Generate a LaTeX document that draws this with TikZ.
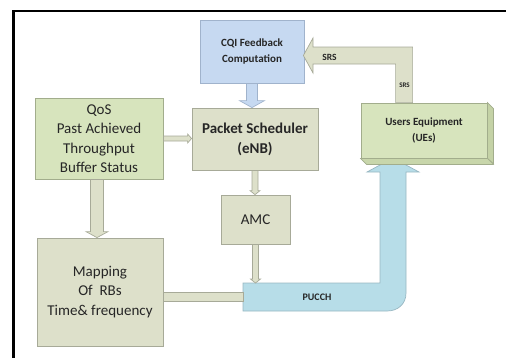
\documentclass[tikz,border=0pt]{standalone}
\usepackage{fontspec}
\setmainfont{Carlito}
\usetikzlibrary{calc}

\definecolor{txtgray}{HTML}{262626}
\definecolor{leafgreen}{HTML}{D7E4BD}
\definecolor{leafedge}{HTML}{A2AD8C}
\definecolor{leafside}{HTML}{C4D2A6}
\definecolor{khakifill}{HTML}{DDE0CA}
\definecolor{khakiedge}{HTML}{A7AA98}
\definecolor{skyfill}{HTML}{C6D9F1}
\definecolor{skyedge}{HTML}{A0B3CC}
\definecolor{chanfill}{HTML}{B7DDE8}
\definecolor{chanedge}{HTML}{98B7C2}

\begin{document}
\begin{tikzpicture}[x=1pt,y=-1pt,
  boxbase/.style={draw, line width=0.8pt, inner sep=0pt, align=center, text=txtgray},
  greenbox/.style={boxbase, fill=leafgreen, draw=leafedge},
  khakibox/.style={boxbase, fill=khakifill, draw=khakiedge},
  bluebox/.style={boxbase, fill=skyfill, draw=skyedge},
  khakiarrow/.style={fill=khakifill, draw=khakiedge, line width=0.7pt, line join=miter},
  bluearrow/.style={fill=skyfill, draw=skyedge, line width=0.7pt},
  chanarrow/.style={fill=chanfill, draw=chanedge, line width=0.7pt},
  bigtext/.style={font=\fontsize{15}{19.5}\selectfont},
  bigbold/.style={font=\fontsize{15}{20}\selectfont\bfseries},
  smallbold/.style={font=\fontsize{11}{15.5}\selectfont\bfseries},
  tag/.style={inner sep=0pt, text=txtgray, font=\fontsize{9.5}{11}\selectfont\bfseries}
]
\useasboundingbox (0,0) rectangle (506,357);

% page frame
\draw[line width=2.2pt] (13.5,360) -- (13.5,11) -- (510,11);

% blocks (placed first so the block arrows can refer to them)
\path
  node[bluebox, smallbold, minimum width=104, minimum height=63] (cqi) at (252,51.5) {CQI Feedback\\Computation}
  node[khakibox, bigbold, minimum width=126, minimum height=62] (ps) at (255,139) {Packet Scheduler\\(eNB)}
  node[khakibox, bigtext, minimum width=69, minimum height=49] (amc) at (255.5,219.5) {AMC}
  node[greenbox, bigtext, minimum width=128, minimum height=81] (qos) at (99,138.5) {QoS\\Past Achieved\\Throughput\\Buffer Status}
  node[khakibox, bigtext, minimum width=126, minimum height=108] (map) at (100,292) {Mapping\\Of~ RBs\\Time\& frequency};

% corner points of the uplink channel arrow
\coordinate (chL) at (243,283);
\coordinate (chTip) at (393,158);

% uplink control channel: bent block arrow up to the UEs
\filldraw[chanarrow] (chL) -- (380,283) -- (380,172) -- (367,172) -- (chTip)
  -- (419,172) -- (406,172) -- (406,293) .. controls (406,304) and (398,311) .. (387,311)
  -- (243,311) -- cycle;
\node[tag, font=\fontsize{10}{11}\selectfont\bfseries] (pucch) at (317,297.5) {PUCCH};

% user equipment, drawn as a shallow cuboid
\node[greenbox, smallbold, minimum width=126, minimum height=55] (ue) at (424,130.5) {Users Equipment\\(UEs)};
\filldraw[fill=leafside, draw=leafedge, line width=0.7pt]
  (ue.north east) -- ++(6,6) -- ++(0,55) -- ($(ue.south east)$) -- cycle;
\filldraw[fill=leafside!80!leafgreen, draw=leafedge, line width=0.7pt]
  (ue.south west) -- (ue.south east) -- ++(6,6) -- ($(ue.south west)+(6,6)$) -- cycle;

% sounding reference signal: block arrow from the UEs back to the CQI block
\coordinate (srsA) at ($(ue.north west)+(35,0)$);
\coordinate (srsB) at ($(ue.north west)+(52,0)$);
\coordinate (srsTip) at ($(cqi.east)+(-1,4)$);
\filldraw[khakiarrow] (srsA) -- (srsA |- 0,64) -- (313,64) -- (313,73) -- (srsTip)
  -- (313,38) -- (313,47) -- (srsB |- 0,47) -- (srsB) -- cycle;
\node[tag] (srs1) at (329.5,57) {SRS};
\node[tag, font=\fontsize{7}{8}\selectfont\bfseries] (srs2) at (404.5,85) {SRS};

% CQI block -> packet scheduler
\filldraw[bluearrow] ($(cqi.south)+(-5.5,0)$) -- ($(cqi.south |- ps.north)+(-5.5,-7)$)
  -- ($(cqi.south |- ps.north)+(-12.5,-7)$) -- (cqi.south |- ps.north)
  -- ($(cqi.south |- ps.north)+(12.5,-7)$) -- ($(cqi.south |- ps.north)+(5.5,-7)$)
  -- ($(cqi.south)+(5.5,0)$) -- cycle;

% packet scheduler -> AMC
\filldraw[khakiarrow] ($(ps.south)+(-3,0)$) -- ($(ps.south |- amc.north)+(-3,-4)$)
  -- ($(ps.south |- amc.north)+(-5,-4)$) -- (ps.south |- amc.north)
  -- ($(ps.south |- amc.north)+(5,-4)$) -- ($(ps.south |- amc.north)+(3,-4)$)
  -- ($(ps.south)+(3,0)$) -- cycle;

% AMC -> uplink channel
\filldraw[khakiarrow] ($(amc.south)+(-3,0)$) -- ($(amc.south |- chL)+(-3,-4)$)
  -- ($(amc.south |- chL)+(-5,-4)$) -- (amc.south |- chL)
  -- ($(amc.south |- chL)+(5,-4)$) -- ($(amc.south |- chL)+(3,-4)$)
  -- ($(amc.south)+(3,0)$) -- cycle;

% QoS block -> packet scheduler
\filldraw[khakiarrow] ($(qos.east)+(0,-2.5)$) -- ($(ps.west |- qos.east)+(-4,-2.5)$)
  -- ($(ps.west |- qos.east)+(-4,-4.5)$) -- ($(ps.west |- qos.east)+(0,0)$)
  -- ($(ps.west |- qos.east)+(-4,4.5)$) -- ($(ps.west |- qos.east)+(-4,2.5)$)
  -- ($(qos.east)+(0,2.5)$) -- cycle;

% QoS block -> RB mapping
\filldraw[khakiarrow] ($(qos.south)+(-8.5,0)$) -- ($(qos.south |- map.north)+(-8.5,-6)$)
  -- ($(qos.south |- map.north)+(-13,-6)$) -- ($(qos.south |- map.north)+(-2,0)$)
  -- ($(qos.south |- map.north)+(9,-6)$) -- ($(qos.south |- map.north)+(4.5,-6)$)
  -- ($(qos.south)+(4.5,0)$) -- cycle;

% RB mapping -> uplink channel (plain bar)
\filldraw[khakiarrow] ($(map.east)+(0,0)$) rectangle ($(chL |- map.east)+(0,9)$);

\end{tikzpicture}
\end{document}
